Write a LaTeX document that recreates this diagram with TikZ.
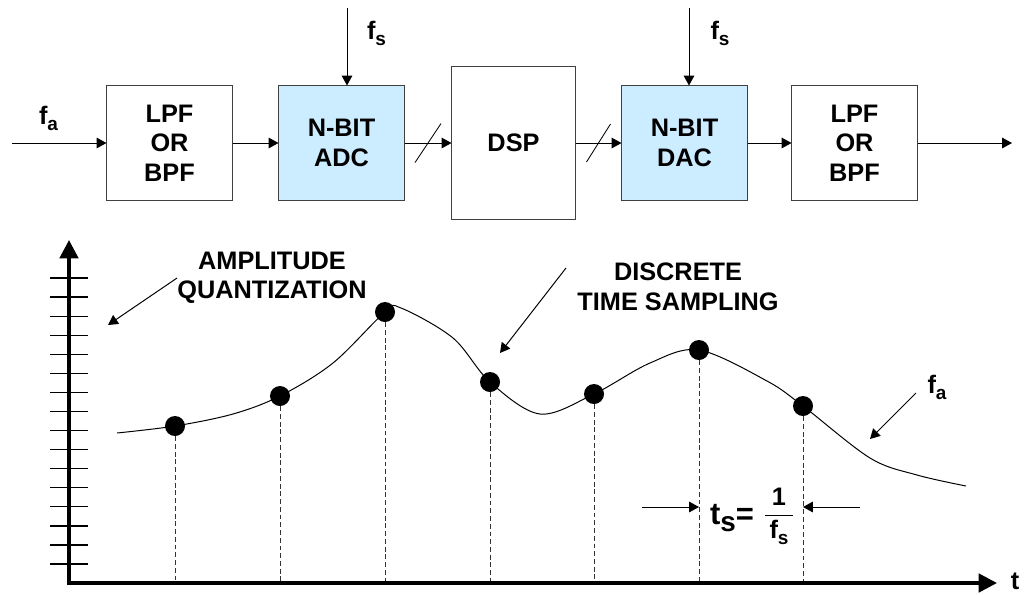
\documentclass[tikz,border=0pt]{standalone}
\usepackage{fontspec}
\setmainfont{Liberation Sans}
\usepackage{amsmath}
\usetikzlibrary{arrows.meta, positioning, calc}
\definecolor{adcblue}{RGB}{204, 236, 255}
\definecolor{boxgray}{RGB}{64, 64, 64}
\newcommand{\lowidx}[2][0.75]{\raisebox{-0.45ex}{\scalebox{#1}{#2}}}

\begin{document}
\begin{tikzpicture}[x=0.025cm, y=-0.025cm,
  lbl/.style={font=\fontsize{18}{21}\selectfont\bfseries, align=center, inner sep=0pt},
  block/.style={draw=boxgray, line width=0.7pt, minimum width=3.125cm, minimum height=2.85cm, lbl},
  sig/.style={-{Triangle[length=7pt, width=7.5pt]}, line width=0.7pt},
  axis/.style={{Triangle[length=13pt, width=13pt]}-{Triangle[length=13pt, width=13pt]}, line width=2.6pt},
  sample/.style={circle, fill=black, inner sep=0pt, minimum size=0.5cm},
  drop/.style={dash pattern=on 3.5pt off 2pt, line width=0.6pt, draw=black!80}
]
  \useasboundingbox (0,0) rectangle (1028,594);

  % Signal chain
  \node[block] (lpfin) at (169.5,143) {LPF\\OR\\BPF};
  \node[block, fill=adcblue] (adc) at (341.5,143) {N-BIT\\ADC};
  \node[block, minimum width=3.075cm, minimum height=3.8cm] (dsp) at (513.5,143) {DSP};
  \node[block, fill=adcblue] (dac) at (684.5,143) {N-BIT\\DAC};
  \node[block] (lpfout) at (854.5,143) {LPF\\OR\\BPF};

  \coordinate (in) at (12,143);
  \coordinate (out) at (1012,143);
  \node[lbl] (fain) at (48.5,118.5) {f\lowidx{a}};
  \draw[sig] (in) -- (lpfin);
  \draw[sig] (lpfin) -- (adc);
  \draw[sig] (adc) -- (dsp);
  \draw[sig] (dsp) -- (dac);
  \draw[sig] (dac) -- (lpfout);
  \draw[sig] (lpfout) -- (out);

  % Bus slashes
  \draw[line width=0.6pt] ($(adc.east)!0.5!(dsp.west)$) ++(-13,19.5) -- ++(26,-39);
  \draw[line width=0.6pt] ($(dsp.east)!0.5!(dac.west)$) ++(-12,19) -- ++(24,-38);

  % Clocks
  \coordinate (clkadc) at (347,8);
  \coordinate (clkdac) at (689,8);
  \draw[sig] (clkadc) -- (clkadc |- adc.north);
  \draw[sig] (clkdac) -- (clkdac |- dac.north);
  \node[lbl] (fsadc) at (376.5,33.5) {f\lowidx{s}};
  \node[lbl] (fsdac) at (720,33.5) {f\lowidx{s}};

  % Quantization levels
  \foreach \k in {0,...,15}
    \draw[line width=0.9pt] (50,{278+19.07*\k}) -- (88,{278+19.07*\k});

  % Analog signal
  \draw[line width=0.7pt] plot[smooth, tension=0.55] coordinates {(117,433) (175,426) (233,414) (280,396) (333,363) (385,312) (401,308) (453,338) (490,382) (540,414) (594,394) (650,363) (699,350) (767,381) (803,406) (870,458) (917,475) (966,486)};

  % Samples
  \foreach \n/\x/\y in {1/175/426, 2/280/396, 3/385/312, 4/490/382, 5/594/394, 6/699/350, 7/803/406}
    \node[sample] (s\n) at (\x,\y) {};
  \coordinate (o) at (69,583);
  \foreach \n in {1,...,7}
    \draw[drop] (s\n.south) -- (s\n |- o);

  % Axes
  \coordinate (ytop) at (69,240);
  \coordinate (xend) at (997,583);
  \draw[axis] (ytop) -- (o) -- (xend);
  \node[lbl] (tlbl) at (1015,581) {t};

  % Annotations
  \node[lbl] (ampq) at (272,278) {AMPLITUDE\\QUANTIZATION};
  \coordinate (ampqtip) at (108,325);
  \draw[sig] (ampq.west) -- (ampqtip);

  \node[lbl] (dts) at (678,287) {DISCRETE\\TIME SAMPLING};
  \coordinate (dtsstart) at (566,268);
  \coordinate (dtstip) at (500,353);
  \draw[sig] (dtsstart) -- (dtstip);

  \node[lbl] (faout) at (937,387) {f\lowidx{a}};
  \coordinate (fastart) at (916,393);
  \coordinate (fatip) at (870,439);
  \draw[sig] (fastart) -- (fatip);

  % Sampling interval
  \node[lbl, font=\fontsize{22}{22}\selectfont\bfseries] (tseq) at (732,518) {t\lowidx[0.9]{s}=};
  \node[lbl] (tsfrac) at (779,516) {$\dfrac{\text{1}}{\text{\hspace{3pt}f\lowidx{s}\hspace{3pt}}}$};
  \coordinate (tsl) at (642,507);
  \coordinate (tsr) at (860,507);
  \draw[sig] (tsl) -- (tsl -| s6);
  \draw[sig] (tsr) -- (tsr -| s7);
\end{tikzpicture}
\end{document}
